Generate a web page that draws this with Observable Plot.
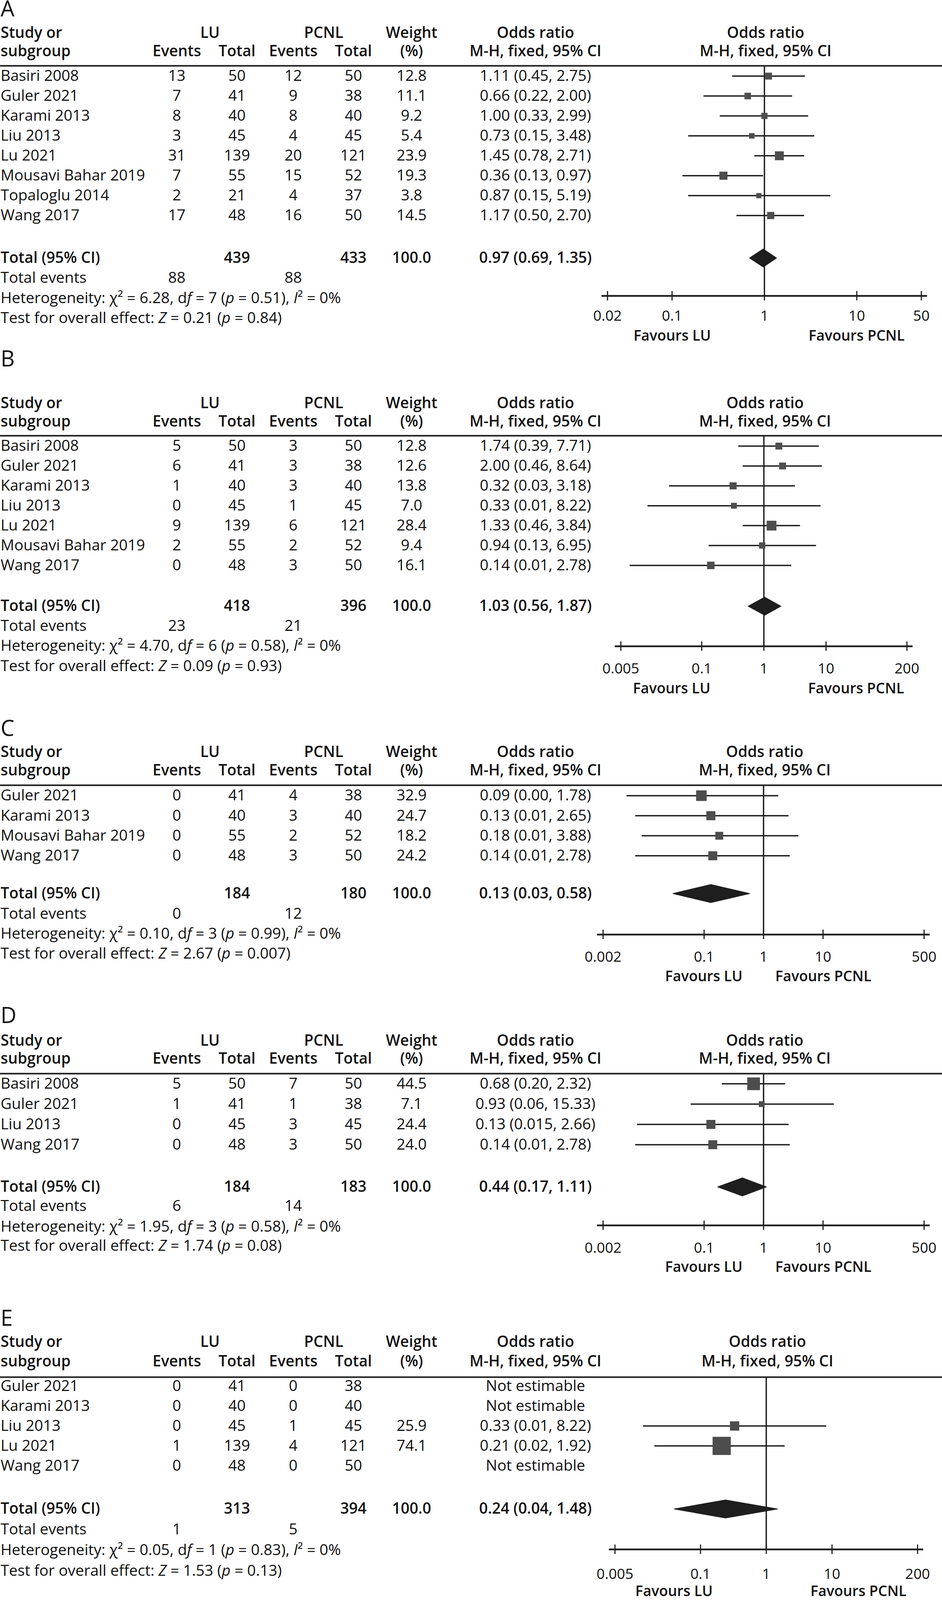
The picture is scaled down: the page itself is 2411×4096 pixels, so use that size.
<!DOCTYPE html>
<html><head><meta charset="utf-8">
<script src="https://cdn.jsdelivr.net/npm/d3@7"></script>
<script src="https://cdn.jsdelivr.net/npm/@observablehq/plot@0.6"></script>
<style>
html,body{margin:0;padding:0;background:#fff;}
#root{position:relative;width:2411px;height:4096px;overflow:hidden;}
.band{position:absolute;left:0;width:2411px;}
.band svg{position:absolute;top:0;overflow:visible;}
</style></head><body><div id="root"></div>
<script>
// ---------------- DATA ----------------
// Panel A
const A_study = ["Basiri 2008","Guler 2021","Karami 2013","Liu 2013","Lu 2021","Mousavi Bahar 2019","Topaloglu 2014","Wang 2017"];
const A_luEvents = [13,7,8,3,31,7,2,17];
const A_luTotal = [50,41,40,45,139,55,21,48];
const A_pcnlEvents = [12,9,8,4,20,15,4,16];
const A_pcnlTotal = [50,38,40,45,121,52,37,50];
const A_weight = [12.8,11.1,9.2,5.4,23.9,19.3,3.8,14.5];
const A_orLabel = ["1.11 (0.45, 2.75)","0.66 (0.22, 2.00)","1.00 (0.33, 2.99)","0.73 (0.15, 3.48)","1.45 (0.78, 2.71)","0.36 (0.13, 0.97)","0.87 (0.15, 5.19)","1.17 (0.50, 2.70)"];
const A_or = [1.11,0.66,1.00,0.73,1.45,0.36,0.87,1.17];
const A_lo = [0.45,0.22,0.33,0.15,0.78,0.13,0.15,0.50];
const A_hi = [2.75,2.00,2.99,3.48,2.71,0.97,5.19,2.70];
const A_totals = [439,433,100.0];
const A_totalEvents = [88,88];
const A_pooled = [0.97,0.69,1.35];
const A_pooledLabel = "0.97 (0.69, 1.35)";
const A_het = "Heterogeneity: χ² = 6.28, df = 7 (p = 0.51), I² = 0%";
const A_test = "Test for overall effect: Z = 0.21 (p = 0.84)";
const A_ticks = [0.02,0.1,1,10,50];
const A_tickLabels = ["0.02","0.1","1","10","50"];

// Panel B
const B_study = ["Basiri 2008","Guler 2021","Karami 2013","Liu 2013","Lu 2021","Mousavi Bahar 2019","Wang 2017"];
const B_luEvents = [5,6,1,0,9,2,0];
const B_luTotal = [50,41,40,45,139,55,48];
const B_pcnlEvents = [3,3,3,1,6,2,3];
const B_pcnlTotal = [50,38,40,45,121,52,50];
const B_weight = [12.8,12.6,13.8,7.0,28.4,9.4,16.1];
const B_orLabel = ["1.74 (0.39, 7.71)","2.00 (0.46, 8.64)","0.32 (0.03, 3.18)","0.33 (0.01, 8.22)","1.33 (0.46, 3.84)","0.94 (0.13, 6.95)","0.14 (0.01, 2.78)"];
const B_or = [1.74,2.00,0.32,0.33,1.33,0.94,0.14];
const B_lo = [0.39,0.46,0.03,0.0135,0.46,0.13,0.007];
const B_hi = [7.71,8.64,3.18,8.22,3.84,6.95,2.78];
const B_totals = [418,396,100.0];
const B_totalEvents = [23,21];
const B_pooled = [1.03,0.56,1.87];
const B_pooledLabel = "1.03 (0.56, 1.87)";
const B_het = "Heterogeneity: χ² = 4.70, df = 6 (p = 0.58), I² = 0%";
const B_test = "Test for overall effect: Z = 0.09 (p = 0.93)";
const B_ticks = [0.005,0.1,1,10,200];
const B_tickLabels = ["0.005","0.1","1","10","200"];

// Panel C
const C_study = ["Guler 2021","Karami 2013","Mousavi Bahar 2019","Wang 2017"];
const C_luEvents = [0,0,0,0];
const C_luTotal = [41,40,55,48];
const C_pcnlEvents = [4,3,2,3];
const C_pcnlTotal = [38,40,52,50];
const C_weight = [32.9,24.7,18.2,24.2];
const C_orLabel = ["0.09 (0.00, 1.78)","0.13 (0.01, 2.65)","0.18 (0.01, 3.88)","0.14 (0.01, 2.78)"];
const C_or = [0.09,0.13,0.18,0.14];
const C_lo = [0.005,0.007,0.009,0.007];
const C_hi = [1.78,2.65,3.88,2.78];
const C_totals = [184,180,100.0];
const C_totalEvents = [0,12];
const C_pooled = [0.13,0.03,0.58];
const C_pooledLabel = "0.13 (0.03, 0.58)";
const C_het = "Heterogeneity: χ² = 0.10, df = 3 (p = 0.99), I² = 0%";
const C_test = "Test for overall effect: Z = 2.67 (p = 0.007)";
const C_ticks = [0.002,0.1,1,10,500];
const C_tickLabels = ["0.002","0.1","1","10","500"];

// Panel D
const D_study = ["Basiri 2008","Guler 2021","Liu 2013","Wang 2017"];
const D_luEvents = [5,1,0,0];
const D_luTotal = [50,41,45,48];
const D_pcnlEvents = [7,1,3,3];
const D_pcnlTotal = [50,38,45,50];
const D_weight = [44.5,7.1,24.4,24.0];
const D_orLabel = ["0.68 (0.20, 2.32)","0.93 (0.06, 15.33)","0.13 (0.015, 2.66)","0.14 (0.01, 2.78)"];
const D_or = [0.68,0.93,0.13,0.14];
const D_lo = [0.20,0.06,0.0075,0.007];
const D_hi = [2.32,15.33,2.66,2.78];
const D_totals = [184,183,100.0];
const D_totalEvents = [6,14];
const D_pooled = [0.44,0.17,1.11];
const D_pooledLabel = "0.44 (0.17, 1.11)";
const D_het = "Heterogeneity: χ² = 1.95, df = 3 (p = 0.58), I² = 0%";
const D_test = "Test for overall effect: Z = 1.74 (p = 0.08)";
const D_ticks = [0.002,0.1,1,10,500];
const D_tickLabels = ["0.002","0.1","1","10","500"];

// Panel E
const E_study = ["Guler 2021","Karami 2013","Liu 2013","Lu 2021","Wang 2017"];
const E_luEvents = [0,0,0,1,0];
const E_luTotal = [41,40,45,139,48];
const E_pcnlEvents = [0,0,1,4,0];
const E_pcnlTotal = [38,40,45,121,50];
const E_weight = [null,null,25.9,74.1,null];
const E_orLabel = ["Not estimable","Not estimable","0.33 (0.01, 8.22)","0.21 (0.02, 1.92)","Not estimable"];
const E_or = [null,null,0.33,0.21,null];
const E_lo = [null,null,0.0135,0.02,null];
const E_hi = [null,null,8.22,1.92,null];
const E_totals = [313,394,100.0];
const E_totalEvents = [1,5];
const E_pooled = [0.24,0.04,1.48];
const E_pooledLabel = "0.24 (0.04, 1.48)";
const E_het = "Heterogeneity: χ² = 0.05, df = 1 (p = 0.83), I² = 0%";
const E_test = "Test for overall effect: Z = 1.53 (p = 0.13)";
const E_ticks = [0.005,0.1,1,10,200];
const E_tickLabels = ["0.005","0.1","1","10","200"];

const GROUP_LABELS = ["LU","PCNL"];
const FAVOURS = ["Favours LU","Favours PCNL"];

// ---------------- LAYOUT (pixels) ----------------
const W = 2411, SPLIT = 1532, FW = W - SPLIT;
const FONT = '"Open Sans", "Noto Sans", sans-serif';
const INK = "#1e1e1e", BOX = "#4d4d4d", TXT = "#111";
const FS = 39, FS_TICK = 37, FS_LABEL = 56;
const COL = {study: 1, lu: 537, pcnl: 828, luEvents: 452, luTotal: 606, pcnlEvents: 750, pcnlTotal: 904, weight: 1053, or: 1370};
const LAYOUT = {
  A: {top:0,    h:885, row0:194.3,  rowH:51,   label:24,    hdr1:84,     hdr2:131,    rule:168,    total:660,    te:711,    het:763,    test:814,    axis:757,    tickLab:809,  fav:860,  xOne:1956,   dec:236.4, favOff:236},
  B: {top:885,  h:955, row0:1141.5, rowH:50.9, label:920,   hdr1:1032,   hdr2:1079,   rule:1115,   total:1551.4, te:1602,   het:1653.5, test:1705,   axis:1654,   tickLab:1712, fav:1763, xOne:1954.6, dec:159.1, favOff:236},
  C: {top:1840, h:730, row0:2036.4, rowH:51.3, label:1866,  hdr1:1925.5, hdr2:1972,   rule:2009.7, total:2287,   te:2338.6, het:2390,   test:2441,   axis:2392,   tickLab:2450, fav:2500, xOne:1953.8, dec:152.2, favOff:153},
  D: {top:2570, h:730, row0:2774,   rowH:52,   label:2601,  hdr1:2664,   hdr2:2710,   rule:2748,   total:3038,   te:3087,   het:3140,   test:3189,   axis:3136.5, tickLab:3195, fav:3244, xOne:1953.8, dec:152.2, favOff:153},
  E: {top:3300, h:796, row0:3548,   rowH:51,   label:3376,  hdr1:3435,   hdr2:3485,   rule:3525,   total:3862.5, te:3915,   het:3968,   test:4021,   axis:3966,   tickLab:4030, fav:4074, xOne:1960.7, dec:168.3, favOff:236}
};

const PANELS = [
  {key:"A", study:A_study, luEvents:A_luEvents, luTotal:A_luTotal, pcnlEvents:A_pcnlEvents, pcnlTotal:A_pcnlTotal, weight:A_weight, orLabel:A_orLabel, or:A_or, lo:A_lo, hi:A_hi, totals:A_totals, totalEvents:A_totalEvents, pooled:A_pooled, pooledLabel:A_pooledLabel, het:A_het, test:A_test, ticks:A_ticks, tickLabels:A_tickLabels},
  {key:"B", study:B_study, luEvents:B_luEvents, luTotal:B_luTotal, pcnlEvents:B_pcnlEvents, pcnlTotal:B_pcnlTotal, weight:B_weight, orLabel:B_orLabel, or:B_or, lo:B_lo, hi:B_hi, totals:B_totals, totalEvents:B_totalEvents, pooled:B_pooled, pooledLabel:B_pooledLabel, het:B_het, test:B_test, ticks:B_ticks, tickLabels:B_tickLabels},
  {key:"C", study:C_study, luEvents:C_luEvents, luTotal:C_luTotal, pcnlEvents:C_pcnlEvents, pcnlTotal:C_pcnlTotal, weight:C_weight, orLabel:C_orLabel, or:C_or, lo:C_lo, hi:C_hi, totals:C_totals, totalEvents:C_totalEvents, pooled:C_pooled, pooledLabel:C_pooledLabel, het:C_het, test:C_test, ticks:C_ticks, tickLabels:C_tickLabels},
  {key:"D", study:D_study, luEvents:D_luEvents, luTotal:D_luTotal, pcnlEvents:D_pcnlEvents, pcnlTotal:D_pcnlTotal, weight:D_weight, orLabel:D_orLabel, or:D_or, lo:D_lo, hi:D_hi, totals:D_totals, totalEvents:D_totalEvents, pooled:D_pooled, pooledLabel:D_pooledLabel, het:D_het, test:D_test, ticks:D_ticks, tickLabels:D_tickLabels},
  {key:"E", study:E_study, luEvents:E_luEvents, luTotal:E_luTotal, pcnlEvents:E_pcnlEvents, pcnlTotal:E_pcnlTotal, weight:E_weight, orLabel:E_orLabel, or:E_or, lo:E_lo, hi:E_hi, totals:E_totals, totalEvents:E_totalEvents, pooled:E_pooled, pooledLabel:E_pooledLabel, het:E_het, test:E_test, ticks:E_ticks, tickLabels:E_tickLabels}
];

const fmtW = d3.format(".1f");

function italicize(svg) {
  d3.select(svg).selectAll("text").each(function() {
    const t = this.textContent;
    if (!/^(Heterogeneity|Test for)/.test(t)) return;
    const re = /(?<=d)f(?= =)|(?<=\()p(?= =)|I(?=²)|Z(?= =)/g;
    const parts = []; let last = 0;
    for (const m of t.matchAll(re)) {
      if (m.index > last) parts.push([t.slice(last, m.index), false]);
      parts.push([m[0], true]);
      last = m.index + m[0].length;
    }
    if (last < t.length) parts.push([t.slice(last), false]);
    const sel = d3.select(this);
    sel.text(null).style("white-space", "pre");
    for (const [s, it] of parts) {
      const ts = sel.append("tspan").text(s);
      if (it) ts.attr("font-style", "italic");
    }
  });
}

function buildPanel(p) {
  const L = LAYOUT[p.key];
  const Y = px => (px - L.row0) / L.rowH;
  const yScale = {type: "linear", domain: [0, 1], range: [L.row0 - L.top, L.row0 - L.top + L.rowH], axis: null};

  const startN = [], startB = [], centN = [], centB = [];
  startB.push({col:"study", y:Y(L.hdr1), text:"Study or"}, {col:"study", y:Y(L.hdr2), text:"subgroup"});
  centB.push({col:"lu", y:Y(L.hdr1), text:GROUP_LABELS[0]}, {col:"pcnl", y:Y(L.hdr1), text:GROUP_LABELS[1]},
             {col:"weight", y:Y(L.hdr1), text:"Weight"}, {col:"or", y:Y(L.hdr1), text:"Odds ratio"},
             {col:"luEvents", y:Y(L.hdr2), text:"Events"}, {col:"luTotal", y:Y(L.hdr2), text:"Total"},
             {col:"pcnlEvents", y:Y(L.hdr2), text:"Events"}, {col:"pcnlTotal", y:Y(L.hdr2), text:"Total"},
             {col:"weight", y:Y(L.hdr2), text:"(%)"}, {col:"or", y:Y(L.hdr2), text:"M-H, fixed, 95% CI"});
  p.study.forEach((s, i) => {
    startN.push({col:"study", y:i, text:s});
    centN.push({col:"luEvents", y:i, text:String(p.luEvents[i])},
               {col:"luTotal", y:i, text:String(p.luTotal[i])},
               {col:"pcnlEvents", y:i, text:String(p.pcnlEvents[i])},
               {col:"pcnlTotal", y:i, text:String(p.pcnlTotal[i])},
               {col:"weight", y:i, text:p.weight[i] == null ? "" : fmtW(p.weight[i])},
               {col:"or", y:i, text:p.orLabel[i]});
  });
  startB.push({col:"study", y:Y(L.total), text:"Total (95% CI)"});
  centB.push({col:"luTotal", y:Y(L.total), text:String(p.totals[0])},
             {col:"pcnlTotal", y:Y(L.total), text:String(p.totals[1])},
             {col:"weight", y:Y(L.total), text:fmtW(p.totals[2])},
             {col:"or", y:Y(L.total), text:p.pooledLabel});
  startN.push({col:"study", y:Y(L.te), text:"Total events"},
              {col:"study", y:Y(L.het), text:p.het},
              {col:"study", y:Y(L.test), text:p.test});
  centN.push({col:"luEvents", y:Y(L.te), text:String(p.totalEvents[0])},
             {col:"pcnlEvents", y:Y(L.te), text:String(p.totalEvents[1])});

  const common = {x: d => COL[d.col], y: "y", text: "text", fill: TXT, fontSize: FS};
  const table = Plot.plot({
    width: SPLIT, height: L.h, margin: 0,
    x: {type: "linear", domain: [0, SPLIT], range: [0, SPLIT], axis: null},
    y: yScale,
    style: {fontFamily: FONT, background: "transparent", overflow: "visible"},
    marks: [
      Plot.ruleY([Y(L.rule)], {stroke: INK, strokeWidth: 4}),
      Plot.text([p.key], {x: () => COL.study, y: () => Y(L.label), text: d => d, textAnchor: "start", fontSize: FS_LABEL, fill: TXT}),
      Plot.text(startN, {...common, textAnchor: "start"}),
      Plot.text(startB, {...common, textAnchor: "start", fontWeight: 600}),
      Plot.text(centN, {...common, textAnchor: "middle"}),
      Plot.text(centB, {...common, textAnchor: "middle", fontWeight: 600})
    ]
  });
  italicize(table);

  const t0 = p.ticks[0], t1 = p.ticks[p.ticks.length - 1];
  const xr = [L.xOne + Math.log10(t0) * L.dec - SPLIT, L.xOne + Math.log10(t1) * L.dec - SPLIT];
  const est = p.study.map((s, i) => ({i, or: p.or[i], lo: p.lo[i], hi: p.hi[i], w: p.weight[i]})).filter(d => d.w != null);
  const dh = 23 / L.rowH;
  const yt = Y(L.total);
  const diamond = [
    {x: p.pooled[1], y: yt}, {x: p.pooled[0], y: yt - dh},
    {x: p.pooled[2], y: yt}, {x: p.pooled[0], y: yt + dh}
  ];
  const tickRows = p.ticks.map((v, k) => ({v, lab: p.tickLabels[k]}));
  const tl = 12 / L.rowH;
  const yAxis = Y(L.axis);
  const forest = Plot.plot({
    width: FW, height: L.h, margin: 0,
    x: {type: "log", domain: [t0, t1], range: xr, axis: null},
    y: yScale,
    r: {type: "linear", domain: [0, 100], range: [6.49, 33.24]},
    style: {fontFamily: FONT, background: "transparent", overflow: "visible"},
    marks: [
      Plot.ruleY([Y(L.rule)], {stroke: INK, strokeWidth: 4}),
      Plot.text(["Odds ratio"], {x: () => 1, y: () => Y(L.hdr1), text: d => d, dx: 3, fontSize: FS, fontWeight: 600, fill: TXT}),
      Plot.text(["M-H, fixed, 95% CI"], {x: () => 1, y: () => Y(L.hdr2), text: d => d, dx: 3, fontSize: FS, fontWeight: 600, fill: TXT}),
      Plot.ruleX([1], {y1: () => Y(L.rule), y2: () => yAxis, stroke: INK, strokeWidth: 3.5}),
      Plot.ruleY(est, {x1: "lo", x2: "hi", y: "i", stroke: INK, strokeWidth: 3.5}),
      Plot.dot(est, {x: "or", y: "i", r: "w", symbol: "square", fill: BOX, stroke: "none"}),
      Plot.line(diamond, {x: "x", y: "y", fill: INK, stroke: INK, strokeWidth: 2, strokeLinejoin: "round", curve: "linear-closed"}),
      Plot.ruleY([yAxis], {x1: () => t0, x2: () => t1, insetLeft: -15, insetRight: -15, stroke: INK, strokeWidth: 4.5}),
      Plot.ruleX(p.ticks, {x: d => d, y1: () => yAxis - tl, y2: () => yAxis + tl, stroke: INK, strokeWidth: 3}),
      Plot.text(tickRows, {x: "v", y: () => Y(L.tickLab), text: "lab", fontSize: FS_TICK, fill: TXT}),
      Plot.text([FAVOURS[0]], {x: () => 1, y: () => Y(L.fav), text: d => d, dx: -L.favOff, fontSize: FS_TICK, fontWeight: 600, fill: TXT}),
      Plot.text([FAVOURS[1]], {x: () => 1, y: () => Y(L.fav), text: d => d, dx: L.favOff, fontSize: FS_TICK, fontWeight: 600, fill: TXT})
    ]
  });

  const band = document.createElement("div");
  band.className = "band";
  band.style.top = L.top + "px";
  band.style.height = L.h + "px";
  table.style.left = "0px";
  forest.style.left = SPLIT + "px";
  band.appendChild(table);
  band.appendChild(forest);
  document.getElementById("root").appendChild(band);
}

PANELS.forEach(buildPanel);
</script>
</body></html>
